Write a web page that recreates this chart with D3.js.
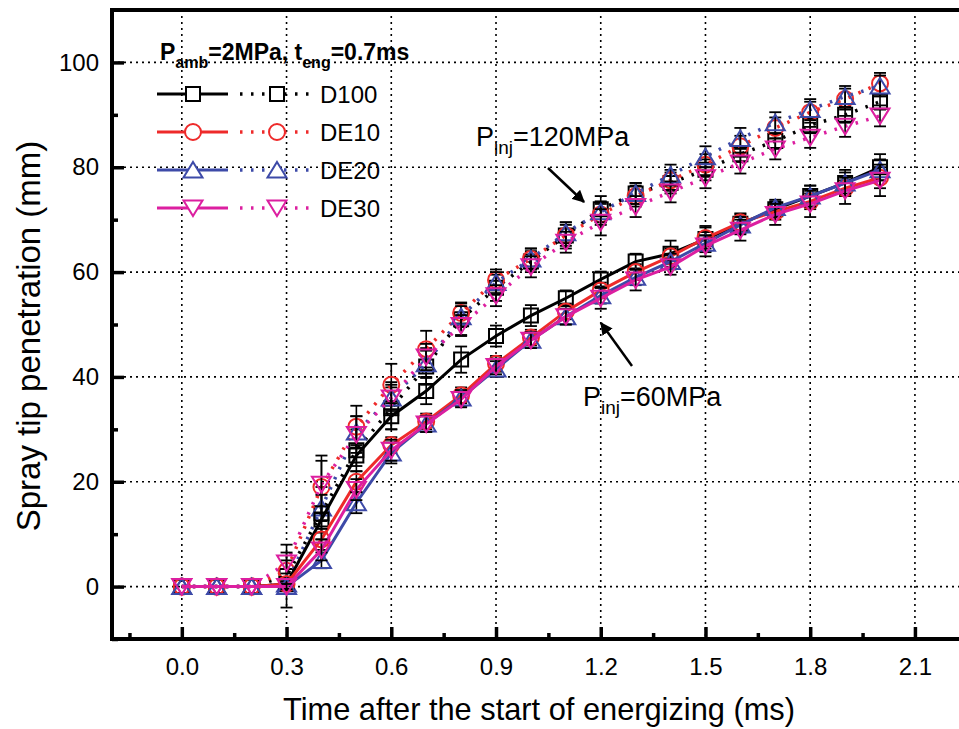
<!DOCTYPE html>
<html>
<head>
<meta charset="utf-8">
<script src="https://d3js.org/d3.v7.min.js"></script>
<style>
  body { margin: 0; background: #fff; }
  text { font-family: Arial, "Liberation Sans", sans-serif; fill: #000; }
</style>
</head>
<body>
<div id="chart"></div>
<script>
// time after start of energizing (ms)
var times = [0, 0.1, 0.2, 0.3, 0.4, 0.5, 0.6, 0.7, 0.8, 0.9, 1.0, 1.1, 1.2, 1.3, 1.4, 1.5, 1.6, 1.7, 1.8, 1.9, 2.0];

// Pinj = 60 MPa (solid lines)
var d100_60 = [0, 0, 0, 0.5, 12.8, 25, 32.5, 37.3, 43.3, 47.8, 51.7, 55, 58.6, 62, 63.5, 66.3, 69.2, 72, 74.5, 77, 80];
var de10_60 = [0, 0, 0, 0.5, 9, 20, 27, 31.5, 36.5, 42.5, 47.5, 52.5, 56.5, 60, 63, 66.5, 69.5, 71.5, 73.5, 76, 78];
var de20_60 = [0, 0, 0, 0, 5, 16, 25.5, 31, 36, 41.5, 47, 51.5, 55.5, 59, 62, 65.5, 69, 72.3, 74.5, 77, 79.5];
var de30_60 = [0, 0, 0, 0, 7, 18.5, 26, 31, 35.7, 42, 47, 51.5, 55, 58.5, 61, 65, 68, 71, 73, 75.5, 77.5];

// Pinj = 120 MPa (dotted lines)
var d100_120 = [0, 0, 0, 2, 14, 26, 34, 42, 51, 57, 62, 67, 72, 75, 77, 79.5, 82.5, 85, 88, 90, 92.5];
var de10_120 = [0, 0, 0, 3, 19, 30.5, 38.5, 45.3, 52.2, 58.5, 62.5, 67, 71, 74.5, 77.5, 80.5, 84, 87.5, 90.5, 93, 96];
var de20_120 = [0, 0, 0, 0.5, 15, 29.5, 36, 42.5, 51.5, 58, 62.5, 67.5, 71.5, 75, 78.5, 82, 85.5, 88.5, 91, 93.5, 95.5];
var de30_120 = [0, 0, 0, 4.5, 19.5, 29, 36, 43.8, 49.8, 55.5, 61, 65.7, 69.5, 72.5, 75.3, 78, 80.8, 83.5, 85.7, 87.8, 89.8];

// error bars (+/- mm)
var d100_60_err = [0, 0, 0, 1, 2.5, 2, 2.5, 2.5, 2.5, 2, 2, 1.5, 1.5, 1.5, 2.5, 2.5, 2, 1.5, 2, 2.5, 2.5];
var de10_60_err = [0, 0, 0, 0.5, 2, 2, 1.5, 1.5, 1.5, 1.5, 1.5, 1.5, 1.5, 1.5, 1.5, 2, 1.5, 1.5, 1.5, 1.5, 2];
var de20_60_err = [0, 0, 0, 0.5, 1.5, 2, 2, 1.5, 1.5, 1.5, 1.5, 1.5, 1.5, 1.5, 1.5, 1.5, 1.5, 1.5, 2, 2, 2];
var de30_60_err = [0, 0, 0, 0.5, 2, 2, 2, 1.5, 1.5, 1.5, 1.5, 1.5, 2, 2, 1.5, 2, 2, 2, 2.5, 2.5, 3];
var d100_120_err = [0, 0, 0, 6, 5, 4, 4, 3.5, 3, 2.5, 2, 2.5, 2.5, 2, 2, 2, 1.5, 1.5, 1.5, 1.5, 1.5];
var de10_120_err = [0, 0, 0, 2, 5, 4, 4, 3.5, 2, 2, 2, 2, 2, 2, 2, 2, 2, 2, 2, 2, 2];
var de20_120_err = [0, 0, 0, 1, 2.5, 3, 2.5, 2.5, 2, 2, 2, 2, 2, 2, 2, 2, 2, 2, 2, 2, 2];
var de30_120_err = [0, 0, 0, 2, 5.5, 3.5, 3, 2.5, 2, 2, 2, 2, 2.5, 2, 2, 2, 2, 2, 2, 2, 2];

var fuels = ["D100", "DE10", "DE20", "DE30"];
var xTicks = [0, 0.3, 0.6, 0.9, 1.2, 1.5, 1.8, 2.1];
var xMinor = [-0.15, 0.15, 0.45, 0.75, 1.05, 1.35, 1.65, 1.95];
var yTicks = [0, 20, 40, 60, 80, 100];
var yMinor = [-10, 10, 30, 50, 70, 90];

var colors = {D100: "#000000", DE10: "#ee2a2a", DE20: "#3d4aa8", DE30: "#dc1fa0"};
var symbols = {D100: "square", DE10: "circle", DE20: "up", DE30: "down"};

var series = [
  {fuel: "D100", p: 120, v: d100_120, e: d100_120_err},
  {fuel: "DE10", p: 120, v: de10_120, e: de10_120_err},
  {fuel: "DE20", p: 120, v: de20_120, e: de20_120_err},
  {fuel: "DE30", p: 120, v: de30_120, e: de30_120_err},
  {fuel: "D100", p: 60, v: d100_60, e: d100_60_err},
  {fuel: "DE10", p: 60, v: de10_60, e: de10_60_err},
  {fuel: "DE20", p: 60, v: de20_60, e: de20_60_err},
  {fuel: "DE30", p: 60, v: de30_60, e: de30_60_err}
];

var W = 959, H = 729;
var x = d3.scaleLinear().domain([-0.2, 2.3]).range([112, 112 + 2.5 * 349.1]);
var y = d3.scaleLinear().domain([-10, 110]).range([639, 10]);

var svg = d3.select("#chart").append("svg")
  .attr("width", W).attr("height", H);

// dotted grid
svg.append("g").selectAll("line").data(xTicks).enter().append("line")
  .attr("x1", d => x(d)).attr("x2", d => x(d))
  .attr("y1", y(110)).attr("y2", y(-10))
  .attr("stroke", "#000").attr("stroke-width", 1.6).attr("stroke-dasharray", "2,4");
svg.append("g").selectAll("line").data(yTicks).enter().append("line")
  .attr("x1", x(-0.2)).attr("x2", W)
  .attr("y1", d => y(d)).attr("y2", d => y(d))
  .attr("stroke", "#000").attr("stroke-width", 1.6).attr("stroke-dasharray", "2,4");

// axes
var gx = svg.append("g").attr("transform", "translate(0," + y(-10) + ")")
  .call(d3.axisBottom(x).tickValues(xTicks).tickSize(-12).tickPadding(19).tickFormat(d3.format(".1f")));
var gxm = svg.append("g").attr("transform", "translate(0," + y(-10) + ")")
  .call(d3.axisBottom(x).tickValues(xMinor).tickSize(-6).tickFormat(""));
var gy = svg.append("g").attr("transform", "translate(" + x(-0.2) + ",0)")
  .call(d3.axisLeft(y).tickValues(yTicks).tickSize(-12).tickPadding(13));
var gym = svg.append("g").attr("transform", "translate(" + x(-0.2) + ",0)")
  .call(d3.axisLeft(y).tickValues(yMinor).tickSize(-6).tickFormat(""));
[gx, gxm, gy, gym].forEach(function(g) {
  g.select(".domain").remove();
  g.selectAll(".tick line").attr("stroke", "#000").attr("stroke-width", 3.5);
  g.selectAll("text").style("font-size", "24px").attr("font-family", "Arial, 'Liberation Sans', sans-serif");
});

// frame
svg.append("path")
  .attr("d", "M" + W + "," + y(110) + "H" + x(-0.2) + "V" + y(-10) + "H" + W)
  .attr("fill", "none").attr("stroke", "#000").attr("stroke-width", 4);

// marker path generator
function markerPath(kind) {
  if (kind === "square") return "M-7,-7H7V7H-7Z";
  if (kind === "circle") return "M-8,0A8,8 0 1,0 8,0A8,8 0 1,0 -8,0Z";
  if (kind === "up") return "M0,-8L9.5,7.5H-9.5Z";
  return "M0,8L9.5,-7.5H-9.5Z";
}

var line = d3.line().x(d => x(d[0])).y(d => y(d[1]));

series.forEach(function(s) {
  var pts = times.map((t, i) => [t, s.v[i], s.e[i]]);
  var g = svg.append("g");
  g.append("path").attr("d", line(pts))
    .attr("fill", "none").attr("stroke", colors[s.fuel])
    .attr("stroke-width", s.p === 60 ? 3 : 3.5)
    .attr("stroke-dasharray", s.p === 60 ? null : "2.5,8.5");
  // error bars
  var eb = g.append("g").selectAll("g").data(pts.filter(d => d[2] > 0)).enter().append("g");
  eb.append("line").attr("x1", d => x(d[0])).attr("x2", d => x(d[0]))
    .attr("y1", d => y(d[1] - d[2])).attr("y2", d => y(d[1] + d[2]))
    .attr("stroke", "#000").attr("stroke-width", 1.6);
  eb.append("line").attr("x1", d => x(d[0]) - 6).attr("x2", d => x(d[0]) + 6)
    .attr("y1", d => y(d[1] + d[2])).attr("y2", d => y(d[1] + d[2]))
    .attr("stroke", "#000").attr("stroke-width", 1.8);
  eb.append("line").attr("x1", d => x(d[0]) - 6).attr("x2", d => x(d[0]) + 6)
    .attr("y1", d => y(d[1] - d[2])).attr("y2", d => y(d[1] - d[2]))
    .attr("stroke", "#000").attr("stroke-width", 1.8);
  g.append("g").selectAll("path").data(pts).enter().append("path")
    .attr("d", markerPath(symbols[s.fuel]))
    .attr("transform", d => "translate(" + x(d[0]) + "," + y(d[1]) + ")")
    .attr("fill", "none").attr("stroke", colors[s.fuel]).attr("stroke-width", 2);
});

// legend
var lg = svg.append("g");
var title = lg.append("text").attr("x", 160).attr("y", 60)
  .style("font-size", "23px").style("font-weight", "bold");
title.append("tspan").text("P");
title.append("tspan").attr("dy", 8).style("font-size", "16px").text("amb");
title.append("tspan").attr("dy", -8).text("=2MPa, t");
title.append("tspan").attr("dy", 8).style("font-size", "16px").text("eng");
title.append("tspan").attr("dy", -8).text("=0.7ms");

fuels.forEach(function(f, i) {
  var ly = 94 + i * 38;
  var c = colors[f];
  lg.append("line").attr("x1", 157).attr("x2", 228).attr("y1", ly).attr("y2", ly)
    .attr("stroke", c).attr("stroke-width", 3);
  lg.append("path").attr("d", markerPath(symbols[f]))
    .attr("transform", "translate(193," + ly + ")")
    .attr("fill", "#fff").attr("stroke", c).attr("stroke-width", 2);
  lg.append("line").attr("x1", 240).attr("x2", 312).attr("y1", ly).attr("y2", ly)
    .attr("stroke", c).attr("stroke-width", 3.5).attr("stroke-dasharray", "2.5,8.5");
  lg.append("path").attr("d", markerPath(symbols[f]))
    .attr("transform", "translate(277," + ly + ")")
    .attr("fill", "#fff").attr("stroke", c).attr("stroke-width", 2);
  lg.append("text").attr("x", 320).attr("y", ly + 9).style("font-size", "24px").text(f);
});

// annotations
svg.append("defs").append("marker").attr("id", "arr")
  .attr("viewBox", "0 0 10 10").attr("refX", 9).attr("refY", 5)
  .attr("markerWidth", 5).attr("markerHeight", 5).attr("orient", "auto")
  .append("path").attr("d", "M0,0L10,5L0,10Z").attr("fill", "#000");

function annot(tx, ty, val) {
  var t = svg.append("text").attr("x", tx).attr("y", ty).style("font-size", "27px");
  t.append("tspan").text("P");
  t.append("tspan").attr("dy", 8).style("font-size", "19px").text("inj");
  t.append("tspan").attr("dy", -8).text("=" + val + "MPa");
}
annot(476, 146, 120);
annot(583, 406, 60);
svg.append("line").attr("x1", 548).attr("y1", 168).attr("x2", 584).attr("y2", 202)
  .attr("stroke", "#000").attr("stroke-width", 2.5).attr("marker-end", "url(#arr)");
svg.append("line").attr("x1", 632).attr("y1", 366).attr("x2", 601).attr("y2", 323)
  .attr("stroke", "#000").attr("stroke-width", 2.5).attr("marker-end", "url(#arr)");

// axis titles
svg.append("text").attr("x", 539).attr("y", 720).attr("text-anchor", "middle")
  .attr("textLength", 512).attr("lengthAdjust", "spacingAndGlyphs")
  .style("font-size", "32px").text("Time after the start of energizing (ms)");
svg.append("text").attr("transform", "translate(40,336) rotate(-90)").attr("text-anchor", "middle")
  .style("font-size", "33px").text("Spray tip penetration (mm)");
</script>
</body>
</html>
